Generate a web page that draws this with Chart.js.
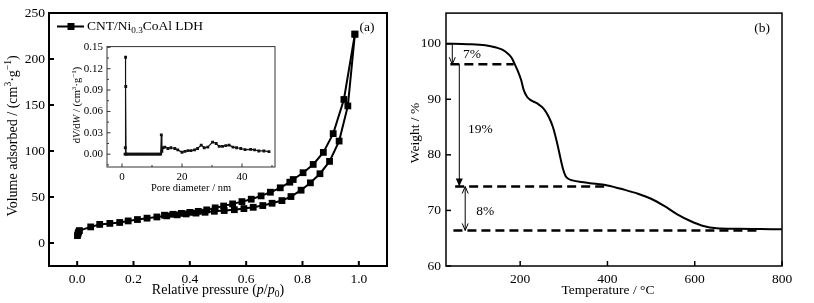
<!DOCTYPE html>
<html>
<head>
<meta charset="utf-8">
<script src="https://cdn.jsdelivr.net/npm/chart.js@4"></script>
<style>
  html, body { margin: 0; padding: 0; background: #fff; }
  #wrap { position: relative; width: 814px; height: 303px; }
  canvas { position: absolute; }
</style>
</head>
<body>
<div id="wrap">
  <canvas id="bet" style="left:0;top:0;width:410px;height:303px" width="410" height="303"></canvas>
  <canvas id="tga" style="left:405px;top:0;width:409px;height:303px" width="409" height="303"></canvas>
  <canvas id="pore" style="left:70px;top:36px;width:212px;height:160px" width="212" height="160"></canvas>
</div>
<script>
// N2 isotherm, adsorption branch
const adsP = [0.001, 0.003, 0.005, 0.008, 0.048, 0.080, 0.116, 0.151, 0.181, 0.214, 0.248, 0.283, 0.318, 0.355, 0.387, 0.422, 0.454, 0.487, 0.522, 0.558, 0.592, 0.625, 0.659, 0.692, 0.727, 0.759, 0.795, 0.828, 0.862, 0.896, 0.930, 0.961, 0.986];
const adsV = [8, 10, 12, 13.5, 17.5, 20.2, 21.3, 22.3, 24, 25.5, 27, 28.3, 29.5, 30.6, 31.6, 32.5, 33.4, 34.5, 35.3, 36.2, 37.4, 38.8, 40.7, 43.2, 46.1, 50.5, 57.4, 65.4, 75.3, 88.7, 110.8, 149, 227];
// desorption branch
const desP = [0.986, 0.947, 0.909, 0.874, 0.838, 0.802, 0.767, 0.755, 0.721, 0.686, 0.653, 0.618, 0.585, 0.552, 0.520, 0.490, 0.460, 0.430, 0.400, 0.370, 0.340, 0.310];
const desV = [227, 156, 118.9, 98.5, 85.4, 76.4, 69, 66.1, 60, 55.2, 51.2, 47.6, 45, 42.5, 40.2, 38.2, 36, 34.4, 33.3, 32.2, 31.2, 30.2];

// pore size distribution (inset)
const poreD = [1.0, 1.1, 1.2, 1.25, 1.35, 1.5, 2.0, 2.5, 3.0, 3.5, 4.0, 4.5, 5.0, 5.5, 6.0, 6.5, 7.0, 7.5, 8.0, 8.5, 9.0, 9.5, 10.0, 10.5, 11.0, 11.5, 12.0, 12.5, 12.9, 13.1, 13.3, 13.7, 14.3, 15.3, 16.3, 17.6, 18.6, 20.0, 21.0, 22.0, 23.0, 24.2, 25.2, 26.4, 27.4, 28.6, 30.2, 31.4, 32.4, 33.5, 34.6, 35.7, 37.0, 38.2, 39.6, 41.0, 42.9, 44.2, 45.6, 47.3, 49.0];
const poreDV = [0, 0.009, 0.136, 0.095, 0, 0, 0, 0, 0, 0, 0, 0, 0, 0, 0, 0, 0, 0, 0, 0, 0, 0, 0, 0, 0, 0, 0, 0, 0, 0.027, 0.004, 0.009, 0.010, 0.008, 0.009, 0.008, 0.006, 0.0027, 0.004, 0.005, 0.005, 0.006, 0.008, 0.0127, 0.009, 0.010, 0.017, 0.015, 0.011, 0.011, 0.012, 0.0127, 0.010, 0.009, 0.008, 0.0065, 0.0068, 0.006, 0.0045, 0.0045, 0.0035];

// TGA
const tgaT = [30, 80, 120, 145, 160, 172, 180, 187, 195, 202, 208, 216, 225, 240, 255, 265, 275, 285, 292, 298, 304, 310, 320, 340, 360, 400, 440, 470, 500, 530, 560, 590, 620, 650, 700, 750, 800];
const tgaW = [100, 99.9, 99.7, 99.3, 98.9, 98.2, 97.5, 96.4, 95, 93.5, 91.7, 90.4, 89.8, 89.2, 88.2, 86.9, 85, 82, 79.5, 77.5, 76.2, 75.7, 75.4, 75.1, 74.9, 74.5, 73.7, 73, 72.1, 70.8, 69.3, 68.1, 67.2, 66.8, 66.7, 66.65, 66.6];

// mass-loss steps
const stepLevels = [96.3, 74.3, 66.4];
const stepFrom = [40, 51, 47];
const stepTo = [185, 398, 742];
const lossText = ['7%', '19%', '8%'];
const lossArrowT = [44.4, 60.5, 74];
const lossLabelT = [89.5, 108.5, 120];
const lossLabelW = [98, 84.5, 69.8];

// ticks
const betXTicks = [0, 0.2, 0.4, 0.6, 0.8, 1.0];
const betYTicks = [0, 50, 100, 150, 200, 250];
const poreXTicks = [0, 20, 40];
const poreYTicks = [0, 0.03, 0.06, 0.09, 0.12, 0.15];
const tgaXTicks = [200, 400, 600, 800];
const tgaYTicks = [60, 70, 80, 90, 100];

const SERIF = '"Liberation Serif", "Times New Roman", serif';

function fontFor(kind, size) {
  const s = (kind === 'sub' || kind === 'sup') ? size * 0.68 : size;
  return (kind === 'i' ? 'italic ' : '') + s + 'px ' + SERIF;
}

function richWidth(ctx, parts, size) {
  let w = 0;
  parts.forEach(([t, k]) => { ctx.font = fontFor(k, size); w += ctx.measureText(t).width; });
  return w;
}

function drawRich(ctx, parts, x, y, size, align, rot) {
  ctx.save();
  ctx.translate(x, y);
  if (rot) ctx.rotate(rot);
  ctx.fillStyle = '#000';
  ctx.textBaseline = 'middle';
  ctx.textAlign = 'left';
  let cx = align === 'left' ? 0 : -richWidth(ctx, parts, size) / 2;
  parts.forEach(([t, k]) => {
    ctx.font = fontFor(k, size);
    const dy = k === 'sub' ? size * 0.3 : (k === 'sup' ? -size * 0.3 : 0);
    ctx.fillText(t, cx, dy);
    cx += ctx.measureText(t).width;
  });
  ctx.restore();
}

// box + inward tick marks
const frame = {
  id: 'frame',
  afterDraw(chart, args, opts) {
    const { ctx, chartArea: a } = chart;
    ctx.save();
    ctx.strokeStyle = opts.color;
    ctx.lineWidth = opts.width;
    const xs = chart.scales.x;
    const ys = chart.scales.y;
    const mark = (scale, v, len) => {
      ctx.beginPath();
      if (scale.isHorizontal()) {
        const p = scale.getPixelForValue(v);
        ctx.moveTo(p, a.bottom); ctx.lineTo(p, a.bottom - len);
      } else {
        const p = scale.getPixelForValue(v);
        ctx.moveTo(a.left, p); ctx.lineTo(a.left + len, p);
      }
      ctx.stroke();
    };
    [xs, ys].forEach(s => {
      const vals = s.ticks.map(t => t.value);
      vals.forEach(v => mark(s, v, opts.tick));
      if (opts.minor) {
        const step = vals[1] - vals[0];
        for (let v = vals[0] - step / 2; v <= s.max; v += step) {
          if (v >= s.min) mark(s, v, opts.minor);
        }
      }
    });
    ctx.strokeRect(a.left, a.top, a.width, a.height);
    ctx.restore();
  }
};

const texts = {
  id: 'texts',
  afterDraw(chart, args, opts) {
    (opts.items || []).forEach(it => drawRich(chart.ctx, it.parts, it.x, it.y, it.size, it.align, it.rot));
  }
};

function axis(min, max, ticks, fmt, size, pad, fit) {
  return {
    type: 'linear',
    min, max,
    afterBuildTicks: s => { s.ticks = ticks.map(v => ({ value: v })); },
    afterFit: fit,
    grid: { display: false, drawTicks: false },
    border: { display: false },
    ticks: { autoSkip: false, maxRotation: 0, padding: pad, color: '#000', font: { family: SERIF, size }, callback: fmt }
  };
}

const base = {
  responsive: false,
  animation: false,
  events: [],
  plugins: { legend: { display: false }, tooltip: { enabled: false } }
};

// ---- (a) isotherm ----
const betLegend = {
  id: 'betLegend',
  afterDraw(chart) {
    const ctx = chart.ctx;
    ctx.save();
    ctx.strokeStyle = '#000';
    ctx.lineWidth = 2;
    ctx.beginPath(); ctx.moveTo(57, 26.5); ctx.lineTo(84, 26.5); ctx.stroke();
    ctx.fillStyle = '#000';
    ctx.fillRect(67.5, 23, 7, 7);
    ctx.restore();
    drawRich(ctx, [['CNT/Ni', ''], ['0.3', 'sub'], ['CoAl LDH', '']], 87, 26.5, 13.5, 'left');
  }
};

const isoStyle = {
  showLine: true,
  borderColor: '#000',
  backgroundColor: '#000',
  borderWidth: 2,
  pointStyle: 'rect',
  pointRadius: 4.8,
  pointBorderWidth: 0,
  tension: 0
};

new Chart(document.getElementById('bet'), {
  type: 'scatter',
  data: {
    datasets: [
      Object.assign({ label: 'adsorption', data: adsP.map((p, i) => ({ x: p, y: adsV[i] })) }, isoStyle),
      Object.assign({ label: 'desorption', data: desP.map((p, i) => ({ x: p, y: desV[i] })) }, isoStyle)
    ]
  },
  options: Object.assign({}, base, {
    layout: { padding: { left: 0, top: 13, right: 23, bottom: 0 } },
    scales: {
      x: axis(-0.1, 1.1, betXTicks, v => v.toFixed(1), 13.5, 5, s => { s.height = 37; }),
      y: axis(-25, 250, betYTicks, v => String(v), 13.5, 4, s => { s.width = 49; })
    },
    plugins: Object.assign({}, base.plugins, {
      frame: { width: 2, tick: 5, minor: 0, color: '#000' },
      texts: {
        items: [
          { parts: [['Relative pressure (', ''], ['p', 'i'], ['/', ''], ['p', 'i'], ['0', 'sub'], [')', '']], x: 218, y: 290, size: 14 },
          { parts: [['Volume adsorbed / (cm', ''], ['3', 'sup'], ['·g', ''], ['−1', 'sup'], [')', '']], x: 13, y: 136, size: 14, rot: -Math.PI / 2 },
          { parts: [['(a)', '']], x: 367, y: 27, size: 13.5 }
        ]
      }
    })
  }),
  plugins: [frame, texts, betLegend]
});

// ---- inset: pore size distribution ----
new Chart(document.getElementById('pore'), {
  type: 'scatter',
  data: {
    datasets: [{
      label: 'psd',
      data: poreD.map((d, i) => ({ x: d, y: poreDV[i] })),
      showLine: true,
      borderColor: '#111',
      backgroundColor: '#111',
      borderWidth: 1.2,
      pointStyle: 'rect',
      pointRadius: 2,
      pointBorderWidth: 0,
      tension: 0
    }]
  },
  options: Object.assign({}, base, {
    layout: { padding: { left: 0, top: 7, right: 7, bottom: 0 } },
    scales: {
      x: axis(-5, 51, poreXTicks, v => String(v), 11, 4, s => { s.height = 29; }),
      y: axis(-0.018, 0.151, poreYTicks, v => v.toFixed(2), 11, 4, s => { s.width = 37; })
    },
    plugins: Object.assign({}, base.plugins, {
      frame: { width: 1, tick: 3.5, minor: 2, color: '#333' },
      texts: {
        items: [
          { parts: [['Pore diameter / nm', '']], x: 121, y: 152, size: 10.5 },
          { parts: [['d', ''], ['V', 'i'], ['/d', ''], ['W', 'i'], [' / (cm', ''], ['3', 'sup'], ['·g', ''], ['−1', 'sup'], [')', '']], x: 7, y: 69, size: 10.5, rot: -Math.PI / 2 }
        ]
      }
    })
  }),
  plugins: [frame, texts]
});

// ---- (b) TGA ----
const steps = {
  id: 'steps',
  afterDatasetsDraw(chart) {
    const { ctx } = chart;
    const xs = chart.scales.x;
    const ys = chart.scales.y;
    ctx.save();
    ctx.strokeStyle = '#000';
    ctx.fillStyle = '#000';
    // dashed step levels
    ctx.lineWidth = 2.5;
    ctx.setLineDash([9, 5]);
    stepLevels.forEach((w, i) => {
      const y = ys.getPixelForValue(w);
      ctx.beginPath();
      ctx.moveTo(xs.getPixelForValue(stepFrom[i]), y);
      ctx.lineTo(xs.getPixelForValue(stepTo[i]), y);
      ctx.stroke();
    });
    ctx.setLineDash([]);
    ctx.lineWidth = 1;
    const openHead = (x, y, dir) => {
      ctx.beginPath();
      ctx.moveTo(x - 3, y - dir * 7); ctx.lineTo(x, y); ctx.lineTo(x + 3, y - dir * 7);
      ctx.stroke();
    };
    const fullHead = (x, y, dir) => {
      ctx.beginPath();
      ctx.moveTo(x - 3.5, y - dir * 8); ctx.lineTo(x, y); ctx.lineTo(x + 3.5, y - dir * 8);
      ctx.closePath(); ctx.fill();
    };
    const tops = [100, stepLevels[0], stepLevels[1]];
    lossArrowT.forEach((t, i) => {
      const x = xs.getPixelForValue(t);
      const y0 = ys.getPixelForValue(tops[i]);
      const y1 = ys.getPixelForValue(stepLevels[i]);
      ctx.beginPath(); ctx.moveTo(x, y0); ctx.lineTo(x, y1); ctx.stroke();
      if (i === 1) fullHead(x, y1, 1);
      else openHead(x, y1, 1);
      if (i === 2) openHead(x, y0, -1);
      drawRich(ctx, [[lossText[i], '']], xs.getPixelForValue(lossLabelT[i]), ys.getPixelForValue(lossLabelW[i]), 13.5);
    });
    ctx.restore();
  }
};

new Chart(document.getElementById('tga'), {
  type: 'scatter',
  data: {
    datasets: [{
      label: 'TGA',
      data: tgaT.map((t, i) => ({ x: t, y: tgaW[i] })),
      showLine: true,
      borderColor: '#000',
      borderWidth: 2,
      pointRadius: 0,
      cubicInterpolationMode: 'monotone'
    }]
  },
  options: Object.assign({}, base, {
    layout: { padding: { left: 0, top: 13, right: 32, bottom: 0 } },
    scales: {
      x: axis(30, 800, tgaXTicks, v => String(v), 13.5, 5, s => { s.height = 37; }),
      y: axis(60, 105.5, tgaYTicks, v => String(v), 13.5, 5, s => { s.width = 41; })
    },
    plugins: Object.assign({}, base.plugins, {
      frame: { width: 1.5, tick: 5, minor: 0, color: '#000' },
      texts: {
        items: [
          { parts: [['Temperature / °C', '']], x: 203, y: 290, size: 13.5 },
          { parts: [['Weight / %', '']], x: 10, y: 133, size: 13.5, rot: -Math.PI / 2 },
          { parts: [['(b)', '']], x: 357, y: 28, size: 13.5 }
        ]
      }
    })
  }),
  plugins: [frame, texts, steps]
});
</script>
</body>
</html>
